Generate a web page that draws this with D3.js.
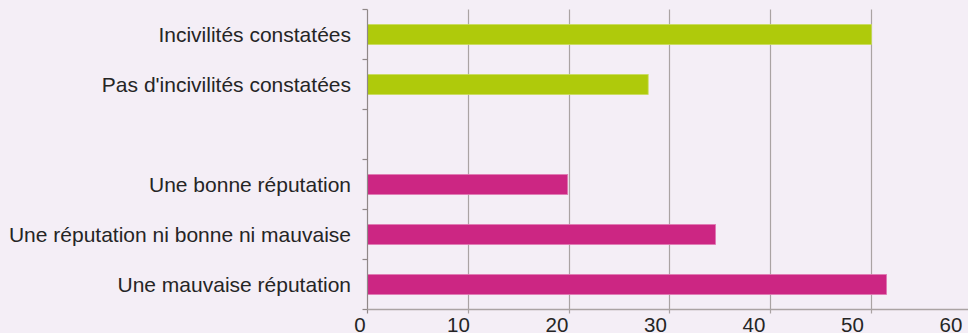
<!DOCTYPE html>
<html><head><meta charset="utf-8">
<script src="https://cdn.jsdelivr.net/npm/d3@7"></script>
<style>
html,body{margin:0;padding:0;background:#f4eef6;}
svg{display:block;}
text{font-family:"Liberation Sans",Arial,sans-serif;fill:#252525;}
</style></head><body>
<svg id="chart" width="968" height="333"></svg>
<script>
const categories = ["Incivilités constatées","Pas d'incivilités constatées","","Une bonne réputation","Une réputation ni bonne ni mauvaise","Une mauvaise réputation"];
const values = [50.1, 27.9, null, 19.9, 34.6, 51.6];
const groups = ["a","a",null,"b","b","b"];
const xTicks = [0,10,20,30,40,50,60];
const colors = {a:"#afca0b", b:"#cc2683"};
const strokes = {a:"#c9dc5c", b:"#e07ab4"};

const svg = d3.select("#chart");
const pLeft = 367.5, pTop = 9.5, pBottom = 309.5;
const x = d3.scaleLinear().domain([0,60]).range([pLeft, pLeft + 60*10.06]);
const xLabel = d3.scaleLinear().domain([0,60]).range([360, 951]);
const y = d3.scaleBand().domain(categories.map((c,i)=>i)).range([pTop,pBottom]).paddingInner(0.6).paddingOuter(0.3);
const yBand = d3.scaleBand().domain(categories.map((c,i)=>i)).range([pTop,pBottom]);

// grid lines
svg.append("g").selectAll("line").data(xTicks.filter(d=>d>0)).join("line")
  .attr("x1",d=>Math.round(x(d))+0.5).attr("x2",d=>Math.round(x(d))+0.5)
  .attr("y1",pTop).attr("y2",pBottom+4)
  .attr("stroke","#aaa3a3").attr("stroke-width",1.2);

// bars
svg.append("g").selectAll("rect").data(values.map((v,i)=>({v,i,g:groups[i]})).filter(d=>d.v!=null)).join("rect")
  .attr("x",x(0)).attr("y",d=>y(d.i))
  .attr("width",d=>x(d.v)-x(0)).attr("height",y.bandwidth())
  .attr("fill",d=>colors[d.g]).attr("stroke",d=>strokes[d.g]).attr("stroke-width",0.8);

// y axis
const yAxis = svg.append("g").attr("transform",`translate(${pLeft},0)`);
yAxis.append("line").attr("x1",0).attr("x2",0).attr("y1",pTop).attr("y2",pBottom+4).attr("stroke","#8f8888").attr("stroke-width",1.2);
yAxis.selectAll("line.tk").data(d3.range(categories.length+1)).join("line").attr("class","tk")
  .attr("x1",-5).attr("x2",0)
  .attr("y1",d=>pTop + d*yBand.step()).attr("y2",d=>pTop + d*yBand.step())
  .attr("stroke","#8f8888").attr("stroke-width",1.2);
yAxis.selectAll("text").data(categories.map((c,i)=>({c,i}))).join("text")
  .attr("x",-16.5).attr("y",d=>yBand(d.i)+yBand.bandwidth()/2 + 7)
  .attr("text-anchor","end")
  .style("font-size","21px").text(d=>d.c);

// x axis
const xAxis = svg.append("g").attr("transform",`translate(0,${pBottom})`);
xAxis.append("line").attr("x1",pLeft).attr("x2",968).attr("stroke","#aaa3a3").attr("stroke-width",1.5);
xAxis.selectAll("text").data(xTicks).join("text")
  .attr("x",d=>xLabel(d)).attr("y",22.5)
  .attr("text-anchor","middle")
  .style("font-size","20.5px").text(d=>d);
</script>
</body></html>
